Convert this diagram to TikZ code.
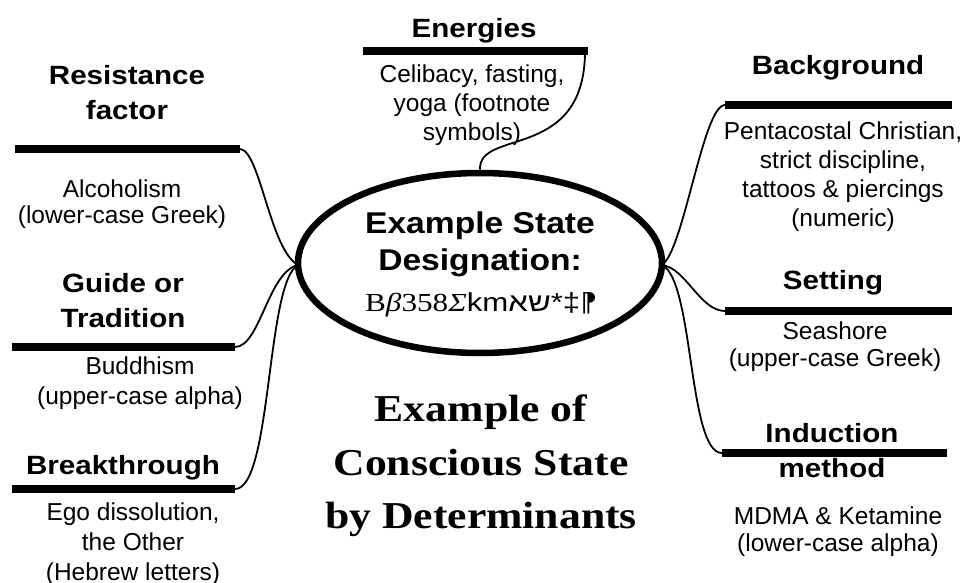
\documentclass[tikz,border=0pt]{standalone}
\usepackage{fontspec}
\setmainfont{Liberation Sans}
\newfontfamily\headfont[FakeStretch=1.12]{Liberation Sans}
\newfontfamily\titlefont[FakeStretch=1.15]{Liberation Serif}
\newfontfamily\desigfont[FakeStretch=1.2]{Liberation Serif}
\newfontfamily\desigsans[FakeStretch=1.2]{Liberation Sans}
\newfontfamily\hebfont[Script=Hebrew,FakeStretch=1.2]{Liberation Sans}
\newfontfamily\symfont{DejaVu Sans}
\TeXXeTstate=1
\usetikzlibrary{shapes.geometric}
\begin{document}
\begin{tikzpicture}[x=1pt,y=-1pt,
  bar/.style={line width=8.5pt},
  conn/.style={line width=1.8pt},
  head/.style={font=\headfont\bfseries\fontsize{26.4}{35}\selectfont,align=center,inner sep=0pt,anchor=north},
  body/.style={font=\fontsize{24.5}{29}\selectfont,align=center,inner sep=0pt,anchor=north},
  ctext/.style={font=\headfont\bfseries\fontsize{30}{37}\selectfont,inner sep=0pt,anchor=base},
  titletext/.style={font=\titlefont\bfseries\fontsize{38}{53.5}\selectfont,align=center,inner sep=0pt,anchor=north}]
\useasboundingbox (0,0) rectangle (964,583);

% central ellipse
\node[draw,ellipse,line width=6.5pt,minimum width=364pt,minimum height=180pt,inner sep=0pt] (E) at (480,263) {};
\node[ctext] (c1) at (480,233) {Example State};
\node[ctext] (c2) at (480,270) {Designation:};
\node[inner sep=0pt,anchor=base] (c3) at (481,311)
  {\fontsize{26}{30}\selectfont\desigfont B\textit{β}358\textit{Σ}{\desigsans km}{\hebfont\beginR שא\endR}{\desigsans *‡}{\symfont ⁋}};

% title
\node[titletext] (title) at (481,395) {Example of\\Conscious State\\by Determinants};

% bar end coordinates
\coordinate (enL) at (363,51);   \coordinate (enR) at (588,51);   \coordinate (enC) at (585,51);
\coordinate (reL) at (15,149);   \coordinate (reR) at (240,149);
\coordinate (guL) at (12,347);   \coordinate (guR) at (235,347);
\coordinate (brL) at (12,489);   \coordinate (brR) at (235,489);
\coordinate (bgL) at (725,105);  \coordinate (bgR) at (952,105);
\coordinate (seL) at (725,311);  \coordinate (seR) at (952,311);
\coordinate (inL) at (722,453);  \coordinate (inR) at (947,453);
\coordinate (EL) at (298,265);   \coordinate (ER) at (662,265);

% bars
\draw[bar] (enL) -- (enR);
\draw[bar] (reL) -- (reR);
\draw[bar] (guL) -- (guR);
\draw[bar] (brL) -- (brR);
\draw[bar] (bgL) -- (bgR);
\draw[bar] (seL) -- (seR);
\draw[bar] (inL) -- (inR);

% connectors
\draw[conn] (enC) .. controls (585,162) and (478,128) .. (E.north);
\draw[conn] (reR) .. controls (260,150) and (270,250) .. (EL);
\draw[conn] (guR) .. controls (260,347) and (268,272) .. (EL);
\draw[conn] (brR) .. controls (272,489) and (266,282) .. (EL);
\draw[conn] (bgL) .. controls (703,105) and (684,250) .. (ER);
\draw[conn] (seL) .. controls (700,311) and (686,268) .. (ER);
\draw[conn] (inL) .. controls (688,453) and (694,280) .. (ER);

% headings
\node[head] (hen) at (474,18) {Energies};
\node[head] (hre) at (127,65) {Resistance\\factor};
\node[head] (hgu) at (123,273) {Guide or\\Tradition};
\node[head] (hbr) at (123,455) {Breakthrough};
\node[head] (hbg) at (838,55) {Background};
\node[head] (hse) at (833,270) {Setting};
\node[head] (hin) at (832,423) {Induction\\method};

% descriptions
\node[body] (ten) at (472,65) {Celibacy, fasting,\\yoga (footnote\\symbols)};
\node[body,font=\fontsize{24.5}{25.5}\selectfont] (tre) at (122,180) {Alcoholism\\(lower-case Greek)};
\node[body,font=\fontsize{24.5}{30}\selectfont] (tgu) at (140,357) {Buddhism\\(upper-case alpha)};
\node[body,font=\fontsize{24.5}{30}\selectfont] (tbr) at (133,503) {Ego dissolution,\\the Other\\(Hebrew letters)};
\node[body] (tbg) at (843,122) {Pentacostal Christian,\\strict discipline,\\tattoos \& piercings\\(numeric)};
\node[body,font=\fontsize{24.5}{27}\selectfont] (tse) at (835,322) {Seashore\\(upper-case Greek)};
\node[body,font=\fontsize{24.5}{27}\selectfont] (tin) at (838,507) {MDMA \& Ketamine\\(lower-case alpha)};
\end{tikzpicture}
\end{document}
